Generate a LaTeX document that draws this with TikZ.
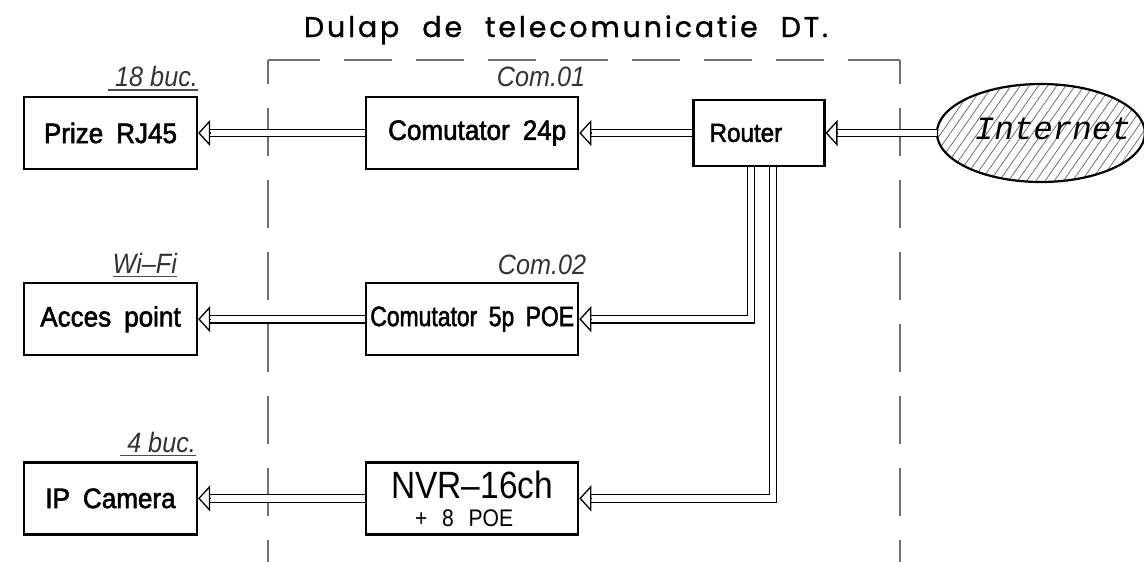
\documentclass[tikz,border=0pt]{standalone}
\usepackage{fontspec}
\usepackage{graphicx}
\setmainfont{Liberation Sans}
\newfontfamily\cajafont[FakeStretch=0.93,WordSpace=1.8,FakeBold=2]{Liberation Sans}
\newfontfamily\nvrfont[FakeStretch=0.88,WordSpace=2.5]{Liberation Sans}
\newfontfamily\notafont[FakeStretch=0.9]{Liberation Sans}
\newfontfamily\titlufont[WordSpace=2.2,LetterSpace=10,FakeBold=1]{Poppins}
\newfontfamily\netfont{Liberation Mono}
\usetikzlibrary{arrows.meta,positioning,shapes.geometric,patterns.meta}
\definecolor{gris}{HTML}{707070}

\begin{document}
\begin{tikzpicture}[
  x=1pt, y=-1pt,
  caja/.style={rectangle, draw, line width=2.2pt, minimum width=173pt, minimum height=72pt, inner sep=0pt, font=\cajafont\fontsize{28}{30}\selectfont},
  equipo/.style={caja, minimum width=212pt},
  nube/.style={ellipse, draw, line width=2.2pt, minimum width=208pt, minimum height=98pt, inner sep=0pt, pattern={Lines[angle=55, distance=7.5pt, line width=0.8pt]}, pattern color=gris},
  flecha/.style={double, double distance=6.2pt, line width=1.3pt, shorten >=11pt},
  punta/.style={-{Triangle[open, length=12pt, width=26pt]}, line width=1.3pt},
  nota/.style={inner sep=0pt, text=black!80, font=\notafont\itshape\fontsize{28}{30}\selectfont},
  subr/.style={line width=1.2pt, black!70},
  dulap/.style={gris, line width=1.3pt}
]
\fill[white] (0,0) rectangle (1144,562);
\useasboundingbox (0,0) rectangle (1144,562);

% dulapul de telecomunicatie
\node[font=\titlufont\fontsize{28.5}{30}\selectfont, anchor=base, inner sep=0pt] (titlu) at (566,37) {Dulap de telecomunicatie DT.};
\draw[dulap, dash pattern=on 48pt off 24pt, dash phase=24pt] (268,60) -- (268,562);
\draw[dulap, dash pattern=on 48pt off 24pt, dash phase=24pt] (900,60) -- (900,562);
\draw[dulap, dash pattern=on 52pt off 24pt on 48pt off 24pt on 48pt off 24pt on 48pt off 24pt on 48pt off 24pt on 48pt off 24pt on 48pt off 24pt on 48pt off 24pt on 52pt off 24pt] (268,60) -- (900,60);

% echipamente
\node[caja] (prize) at (110.5,133) {Prize RJ45};
\node[caja, below=112pt of prize] (acces) {Acces point};
\node[caja, below=105pt of acces] (ipcam) {IP Camera};
\node[equipo, right=167pt of prize] (com24) {\hspace*{10pt}Comutator 24p};
\node[equipo, right=167pt of acces] (com5) {\scalebox{0.88}[1]{Comutator 5p POE}};
\node[equipo, right=167pt of ipcam, align=center, font=\nvrfont\fontsize{24}{28}\selectfont] (nvr) {{\fontsize{38}{40}\selectfont NVR–16ch}\\\hspace*{-16pt}+ 8 POE};
\node[caja, minimum width=131pt, minimum height=66pt, right=113pt of com24, font=\cajafont\fontsize{26}{28}\selectfont] (router) {Router\hspace*{26pt}};
\node[nube, right=111pt of router] (internet) {};
\node[font=\netfont\itshape\fontsize{32.5}{34}\selectfont, inner sep=0pt] (txtnet) at ([xshift=12pt, yshift=4pt]internet.center) {Internet};

% etichete
\node[nota, anchor=base east] (b18) at ([yshift=9pt]prize.north east) {\ 18 buc.};
\node[nota, anchor=base east] (wifi) at ([xshift=-21pt, yshift=9pt]acces.north east) {Wi–Fi};
\node[nota, anchor=base east] (b4) at ([xshift=-2pt, yshift=9pt]ipcam.north east) {\ 4 buc.};
\node[nota, anchor=base east] (com01) at ([xshift=6pt, yshift=9pt]com24.north east) {Com.01};
\node[nota, anchor=base east] (com02) at ([xshift=7pt, yshift=8pt]com5.north east) {Com.02};
\draw[subr] ([yshift=-3pt]b18.base west) -- ([yshift=-3pt]b18.base east);
\draw[subr] ([yshift=-3pt]wifi.base west) -- ([yshift=-3pt]wifi.base east);
\draw[subr] ([yshift=-3pt]b4.base west) -- ([yshift=-3pt]b4.base east);

% legaturi
\draw[flecha] (internet.west) -- (router.east);
\draw[punta] ([xshift=12pt]router.east) -- (router.east);
\draw[flecha] (router.west) -- (com24.east);
\draw[punta] ([xshift=12pt]com24.east) -- (com24.east);
\draw[flecha] (com24.west) -- (prize.east);
\draw[punta] ([xshift=12pt]prize.east) -- (prize.east);
\draw[flecha] ([xshift=-8pt]router.south) |- (com5.east);
\draw[punta] ([xshift=12pt]com5.east) -- (com5.east);
\draw[flecha] (com5.west) -- (acces.east);
\draw[punta] ([xshift=12pt]acces.east) -- (acces.east);
\draw[flecha] ([xshift=14pt]router.south) |- (nvr.east);
\draw[punta] ([xshift=12pt]nvr.east) -- (nvr.east);
\draw[flecha] (nvr.west) -- (ipcam.east);
\draw[punta] ([xshift=12pt]ipcam.east) -- (ipcam.east);
\end{tikzpicture}
\end{document}
